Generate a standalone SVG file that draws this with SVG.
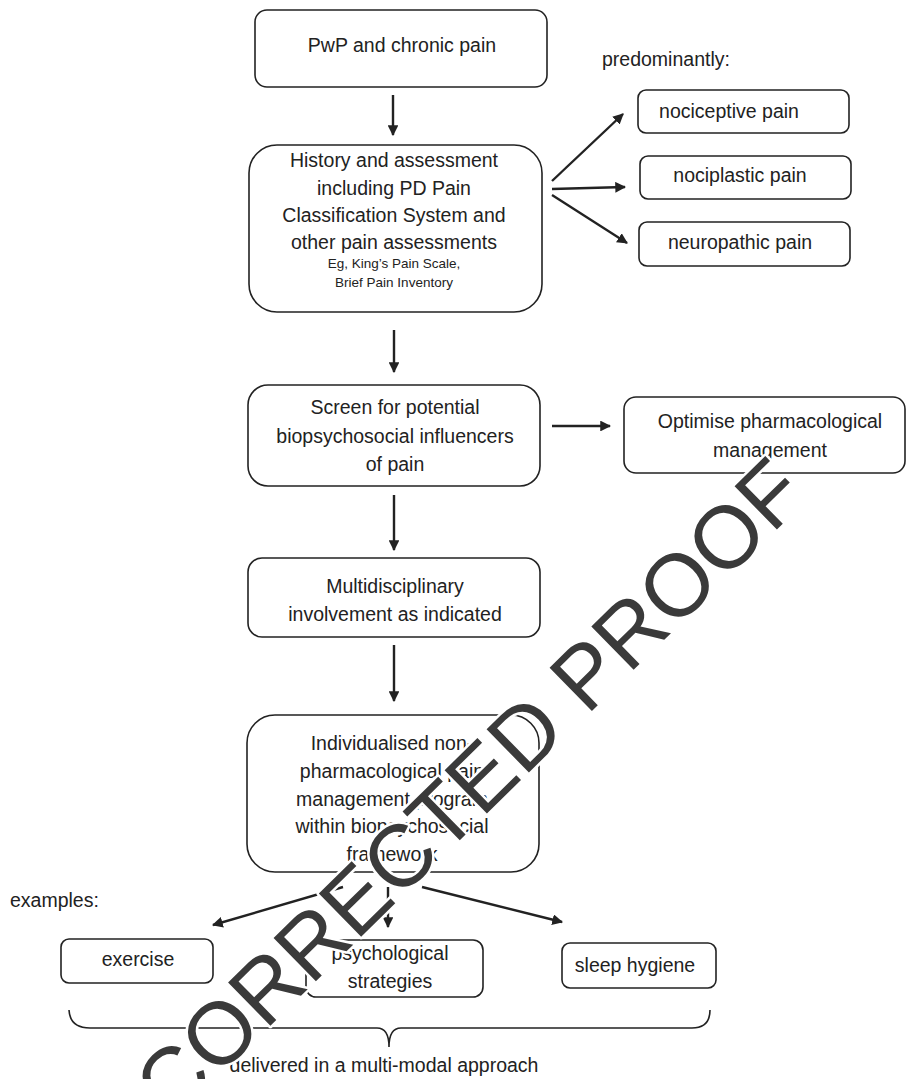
<svg xmlns="http://www.w3.org/2000/svg" width="906" height="1079" viewBox="0 0 906 1079">
<defs>
<style>
.box{fill:#fff;stroke:#222;stroke-width:1.6}
.t{font-family:"Liberation Sans",Arial,sans-serif;font-size:19.5px;fill:#222;text-anchor:middle}
.ts{font-family:"Liberation Sans",Arial,sans-serif;font-size:13.5px;fill:#222;text-anchor:middle}
.tl{font-family:"Liberation Sans",Arial,sans-serif;font-size:19.5px;fill:#222}
.c{stroke:#222;stroke-width:2.4;fill:none;marker-end:url(#ah)}
.wm{font-family:"Liberation Sans",Arial,sans-serif;font-size:88px;fill:#3a3a3a;stroke:#fff;stroke-width:5;paint-order:stroke;stroke-linejoin:round}
</style>
<marker id="ah" viewBox="0 0 10 10" refX="9" refY="5" markerWidth="4.5" markerHeight="4.5" orient="auto" markerUnits="strokeWidth">
<path d="M0 0 L10 5 L0 10 z" fill="#222"/>
</marker>
</defs>
<rect width="906" height="1079" fill="#fff"/>

<g id="connectors">
<line class="c" x1="393" y1="95" x2="393" y2="135"/>
<line class="c" x1="394" y1="330" x2="394" y2="372"/>
<line class="c" x1="552" y1="426" x2="610" y2="426"/>
<line class="c" x1="394" y1="495" x2="394" y2="550"/>
<line class="c" x1="394" y1="645" x2="394" y2="701"/>
<line class="c" x1="552" y1="181" x2="623" y2="114"/>
<line class="c" x1="552" y1="189" x2="625" y2="187"/>
<line class="c" x1="552" y1="195" x2="627" y2="243"/>
<line class="c" x1="343" y1="887" x2="213" y2="925"/>
<line class="c" x1="388" y1="887" x2="388" y2="927"/>
<line class="c" x1="422" y1="887" x2="562" y2="922"/>
<path d="M69 1010 Q70 1028 90 1028 L377 1028 C385 1028 389 1035 389 1047 C389 1035 393 1028 401 1028 L692 1028 Q710 1028 710 1010" fill="none" stroke="#222" stroke-width="1.6"/>
</g>

<g id="n-pwp">
<rect class="box" x="255" y="10" width="292" height="77" rx="12"/>
<text class="t" x="402" y="52">PwP and chronic pain</text>
</g>

<g id="n-history">
<rect class="box" x="249" y="145" width="293" height="167" rx="28"/>
<text class="t" x="394" y="167">History and assessment</text>
<text class="t" x="394" y="195">including PD Pain</text>
<text class="t" x="394" y="222">Classification System and</text>
<text class="t" x="394" y="249">other pain assessments</text>
<text class="ts" x="394" y="268">Eg, King’s Pain Scale,</text>
<text class="ts" x="394" y="287">Brief Pain Inventory</text>
</g>

<g id="label-predominantly">
<text class="tl" x="602" y="66">predominantly:</text>
</g>

<g id="n-nociceptive">
<rect class="box" x="638" y="90" width="211" height="43" rx="8"/>
<text class="t" x="729" y="118">nociceptive pain</text>
</g>

<g id="n-nociplastic">
<rect class="box" x="640" y="156" width="211" height="43" rx="8"/>
<text class="t" x="740" y="182">nociplastic pain</text>
</g>

<g id="n-neuropathic">
<rect class="box" x="639" y="222" width="211" height="44" rx="8"/>
<text class="t" x="740" y="249">neuropathic pain</text>
</g>

<g id="n-screen">
<rect class="box" x="248" y="385" width="292" height="101" rx="20"/>
<text class="t" x="395" y="414">Screen for potential</text>
<text class="t" x="395" y="443">biopsychosocial influencers</text>
<text class="t" x="395" y="471">of pain</text>
</g>

<g id="n-optimise">
<rect class="box" x="624" y="397" width="281" height="76" rx="12"/>
<text class="t" x="770" y="428">Optimise pharmacological</text>
<text class="t" x="770" y="457">management</text>
</g>

<g id="n-multi">
<rect class="box" x="248" y="558" width="292" height="79" rx="14"/>
<text class="t" x="395" y="593">Multidisciplinary</text>
<text class="t" x="395" y="621">involvement as indicated</text>
</g>

<g id="n-individualised">
<rect class="box" x="247" y="715" width="292" height="157" rx="28"/>
<text class="t" x="392" y="750">Individualised non-</text>
<text class="t" x="392" y="778">pharmacological pain</text>
<text class="t" x="392" y="806">management program</text>
<text class="t" x="392" y="833">within biopsychosocial</text>
<text class="t" x="392" y="861">framework</text>
</g>

<g id="label-examples">
<text class="tl" x="10" y="907">examples:</text>
</g>

<g id="n-exercise">
<rect class="box" x="61" y="939" width="152" height="44" rx="8"/>
<text class="t" x="138" y="966">exercise</text>
</g>

<g id="n-psych">
<rect class="box" x="306" y="940" width="177" height="57" rx="10"/>
<text class="t" x="390" y="960">psychological</text>
<text class="t" x="390" y="988">strategies</text>
</g>

<g id="n-sleep">
<rect class="box" x="562" y="943" width="154" height="45" rx="8"/>
<text class="t" x="635" y="972">sleep hygiene</text>
</g>

<g id="label-delivered">
<text class="t" x="384" y="1072">delivered in a multi-modal approach</text>
</g>

<g id="watermark">
<text class="wm" transform="translate(171,1123) rotate(-44.4)">CORRECTED PROOF</text>
</g>
</svg>
